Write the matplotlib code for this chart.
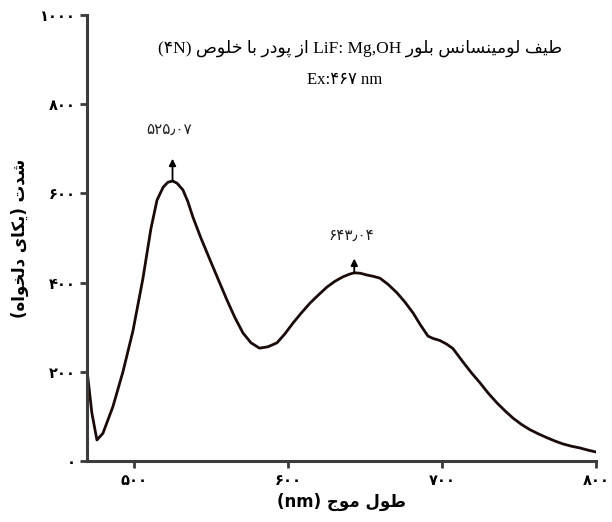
import matplotlib
matplotlib.use('Agg')
import matplotlib.pyplot as plt

# emission spectrum (nm, arbitrary units)
wavelength = [470.1, 472.7, 476.0, 479.9, 486.4, 492.9, 499.4, 505.8, 511, 515, 519, 522, 525.1,
              528, 531.8, 535, 538.3, 543.5, 549.4, 555, 560.4, 565.5, 570.8, 576, 581.5, 587,
              592.9, 598, 603.2, 608.7, 614.3, 620, 625.3, 630.5, 635.7, 640, 643, 647, 651.3,
              655.5, 659.7, 665, 670.8, 676, 681.2, 686, 690.9, 694, 698.7, 703, 707.1, 713.6,
              719, 724.7, 730, 735.7, 741, 746.1, 751.5, 757.1, 763, 768.2, 773, 778.6, 784,
              789.6, 795, 800]
intensity = [188, 108, 47, 62, 122, 200, 292, 408, 520, 585, 614, 625, 628,
             623, 608, 582, 547, 500, 451, 405, 361, 322, 287, 265, 253, 256,
             265, 285, 309, 332, 354, 373, 390, 403, 413, 419, 422, 421, 417,
             414, 410, 396, 377, 356, 332, 305, 280, 275, 270, 262, 252, 222,
             198, 175, 152, 130, 112, 96, 82, 70, 60, 52, 45, 38, 33,
             29, 24, 20]

peak_x = [525.07, 643.04]
peak_y = [628, 422]
peak_labels = ['۵۲۵٫۰۷', '۶۴۳٫۰۴']

xticks = [500, 600, 700, 800]
xtick_labels = ['۵۰۰', '۶۰۰', '۷۰۰', '۸۰۰']
yticks = [0, 200, 400, 600, 800, 1000]
ytick_labels = ['۰', '۲۰۰', '۴۰۰', '۶۰۰', '۸۰۰', '۱۰۰۰']

# persian letters -> (isolated, final, initial, medial) presentation forms
FORMS = {
    'ا': ('\uFE8D', '\uFE8E', None, None),
    'ب': ('\uFE8F', '\uFE90', '\uFE91', '\uFE92'),
    'پ': ('\uFB56', '\uFB57', '\uFB58', '\uFB59'),
    'ت': ('\uFE95', '\uFE96', '\uFE97', '\uFE98'),
    'ج': ('\uFE9D', '\uFE9E', '\uFE9F', '\uFEA0'),
    'خ': ('\uFEA5', '\uFEA6', '\uFEA7', '\uFEA8'),
    'د': ('\uFEA9', '\uFEAA', None, None),
    'ر': ('\uFEAD', '\uFEAE', None, None),
    'ز': ('\uFEAF', '\uFEB0', None, None),
    'س': ('\uFEB1', '\uFEB2', '\uFEB3', '\uFEB4'),
    'ش': ('\uFEB5', '\uFEB6', '\uFEB7', '\uFEB8'),
    'ص': ('\uFEB9', '\uFEBA', '\uFEBB', '\uFEBC'),
    'ط': ('\uFEC1', '\uFEC2', '\uFEC3', '\uFEC4'),
    'ف': ('\uFED1', '\uFED2', '\uFED3', '\uFED4'),
    'ک': ('\uFB8E', '\uFB8F', '\uFB90', '\uFB91'),
    'ل': ('\uFEDD', '\uFEDE', '\uFEDF', '\uFEE0'),
    'م': ('\uFEE1', '\uFEE2', '\uFEE3', '\uFEE4'),
    'ن': ('\uFEE5', '\uFEE6', '\uFEE7', '\uFEE8'),
    'ه': ('\uFEE9', '\uFEEA', '\uFEEB', '\uFEEC'),
    'و': ('\uFEED', '\uFEEE', None, None),
    'ی': ('\uFBFC', '\uFBFD', '\uFBFE', '\uFBFF'),
}
MIRROR = {'(': ')', ')': '('}


def fa(text):
    """shape persian text and return it in visual (left to right) order"""
    out = []
    for i, ch in enumerate(text):
        if ch not in FORMS:
            out.append(MIRROR.get(ch, ch))
            continue
        prev = text[i - 1] if i > 0 else ''
        nxt = text[i + 1] if i + 1 < len(text) else ''
        join_prev = prev in FORMS and FORMS[prev][2] is not None
        join_next = nxt in FORMS and FORMS[ch][2] is not None
        iso, fin, ini, med = FORMS[ch]
        if join_prev and join_next:
            out.append(med)
        elif join_prev:
            out.append(fin)
        elif join_next:
            out.append(ini)
        else:
            out.append(iso)
    return ''.join(reversed(out))


title = '(۴N) ' + fa('از پودر با خلوص') + ' LiF: Mg,OH ' + fa('طیف لومینسانس بلور')
subtitle = 'Ex:۴۶۷ nm'
xlabel = '(nm) ' + fa('طول موج')
ylabel = fa('شدت (یکای دلخواه)')

serif = ['Liberation Serif', 'DejaVu Sans']
sans = ['DejaVu Sans']

fig = plt.figure(figsize=(6.12, 5.22), dpi=100)
ax = fig.add_axes([0.142, 0.117, 0.832, 0.854])

ax.plot(wavelength, intensity, color='#1a0a0a', linewidth=2.0)

arrow_len = [50, 32]
label_gap = [115, 85]
for x, y, lab, al, gap in zip(peak_x, peak_y, peak_labels, arrow_len, label_gap):
    ax.annotate('', xy=(x, y + al), xytext=(x, y),
                arrowprops=dict(arrowstyle='-|>', color='black', lw=1.3,
                                mutation_scale=10, shrinkA=0, shrinkB=0))
    ax.text(x - 2, y + gap, lab, ha='center', va='center', fontsize=11,
            family=sans, color='#222222')

ax.text(647, 926, title, ha='center', va='center', fontsize=12.5, family=serif)
ax.text(637, 854, subtitle, ha='center', va='center', fontsize=12, family=serif)

ax.set_xlim(469.5, 800)
ax.set_ylim(0, 1000)
ax.set_xticks(xticks)
ax.set_xticklabels(xtick_labels, family=sans, fontsize=10.5, fontweight='bold')
ax.set_yticks(yticks)
ax.set_yticklabels(ytick_labels, family=sans, fontsize=10.5, fontweight='bold')
ax.set_xlabel(xlabel, family=sans, fontsize=12, fontweight='bold', labelpad=3)
ax.set_ylabel(ylabel, family=sans, fontsize=12, fontweight='bold', labelpad=8)

for side in ['top', 'right']:
    ax.spines[side].set_visible(False)
for side in ['left', 'bottom']:
    ax.spines[side].set_color('#3c3c3c')
    ax.spines[side].set_linewidth(2.2)
ax.tick_params(axis='both', direction='out', length=5, width=2, color='#3c3c3c', pad=3)
ax.tick_params(axis='x', pad=4)

fig.savefig('out.png', dpi=100)
